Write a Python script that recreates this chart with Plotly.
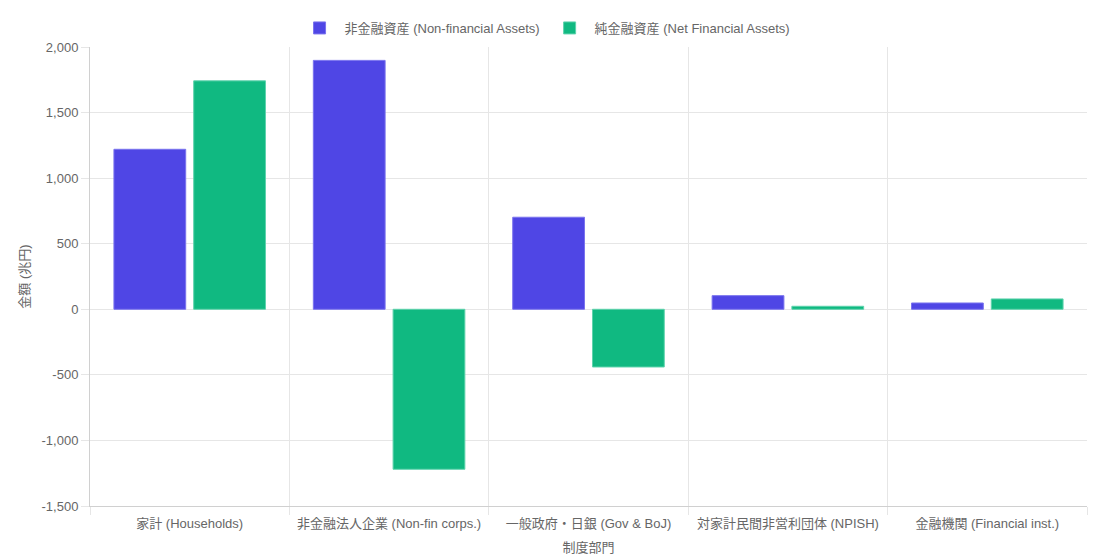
import plotly.graph_objects as go

categories = ["家計 (Households)", "非金融法人企業 (Non-fin corps.)", "一般政府・日銀 (Gov & BoJ)",
              "対家計民間非営利団体 (NPISH)", "金融機関 (Financial inst.)"]
non_financial = [1220, 1898, 702, 104, 48]
net_financial = [1742, -1220, -440, 23, 79]
series_names = ["非金融資産 (Non-financial Assets)", "純金融資産 (Net Financial Assets)"]
tick_vals = [-1500, -1000, -500, 0, 500, 1000, 1500, 2000]
tick_text = [f"{v:,}" for v in tick_vals]

font_family = "Liberation Sans, Arial, Noto Sans CJK JP, sans-serif"

fig = go.Figure()
fig.add_trace(go.Bar(x=categories, y=non_financial, name=series_names[0],
                     marker=dict(color="#4f46e5", line=dict(color="#7a73ee", width=1))))
fig.add_trace(go.Bar(x=categories, y=net_financial, name=series_names[1],
                     marker=dict(color="#10b981", line=dict(color="#5fd3ad", width=1))))

fig.update_layout(
    width=1103, height=552,
    margin=dict(l=82, r=24, t=39, b=54, autoexpand=False),
    paper_bgcolor="white", plot_bgcolor="white",
    font=dict(family=font_family, size=13, color="#666"),
    barmode="group", bargap=0.2, bargroupgap=0.1,
    legend=dict(orientation="h", xref="container", yref="container",
                x=0.4869, xanchor="center", y=0.9638, yanchor="middle",
                font=dict(size=13, color="#666"), itemwidth=40),
    showlegend=True,
)
fig.update_xaxes(
    type="category", tickson="boundaries", showgrid=True, gridcolor="#e6e6e6",
    ticks="outside", ticklen=8, tickcolor="#e6e6e6",
    showline=True, linecolor="#d0d0d0", linewidth=1,
    ticklabelstandoff=5, automargin=False,
    title=dict(text="制度部門", font=dict(size=13, color="#666"), standoff=13),
    tickfont=dict(size=13, color="#666"),
)
fig.update_yaxes(
    range=[-1500, 2000], tickvals=tick_vals, ticktext=tick_text, automargin=False,
    showgrid=True, gridcolor="#e6e6e6", zeroline=True, zerolinecolor="#e6e6e6", zerolinewidth=1,
    ticks="outside", ticklen=8, tickcolor="#e6e6e6",
    showline=True, linecolor="#d0d0d0", linewidth=1,
    title=dict(text="金額 (兆円)", font=dict(size=13, color="#666"), standoff=8),
    tickfont=dict(size=13, color="#666"),
)

fig.write_html("out.html")
